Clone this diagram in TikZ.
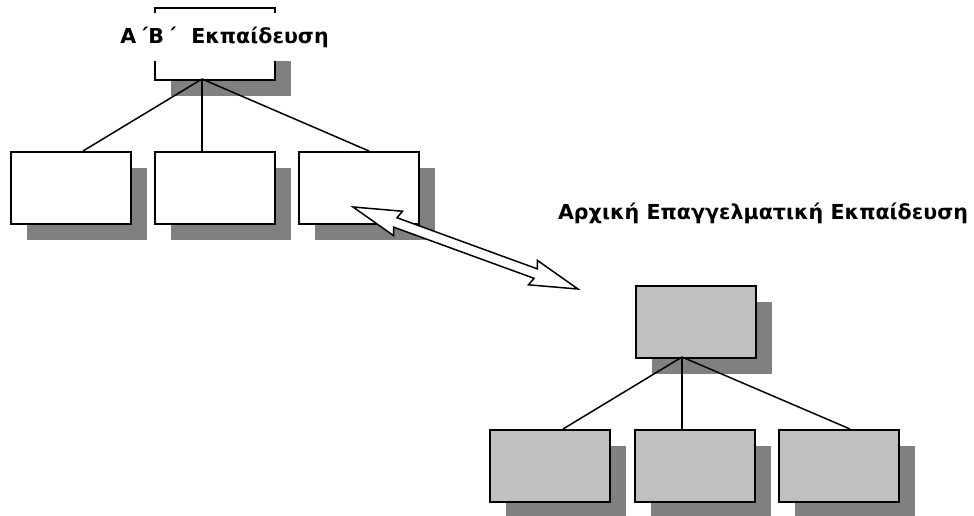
\documentclass[tikz,border=0pt]{standalone}
\usepackage{fontspec}
\setmainfont{DejaVu Sans}
\usetikzlibrary{calc}
\definecolor{shadowgray}{RGB}{128,128,128}
\definecolor{boxgray}{RGB}{192,192,192}
\begin{document}
\begin{tikzpicture}[x=1pt,y=-1pt,
  orgbox/.style={draw=black,line width=2pt,minimum width=120pt,minimum height=72pt,inner sep=0pt,anchor=north west},
  wbox/.style={orgbox,fill=white},
  gbox/.style={orgbox,fill=boxgray},
  shadowbox/.style={fill=shadowgray,draw=none,minimum width=120pt,minimum height=72pt,inner sep=0pt,anchor=north west},
  link/.style={draw=black,line width=1.5pt},
  title/.style={font=\bfseries\fontsize{20.6}{24}\selectfont,inner sep=0pt}]
\useasboundingbox (0,0) rectangle (974,515);
\begin{scope}
\clip (0,0) rectangle (974,515);
% shadows
\foreach \x/\y in {171/24, 27/168, 171/168, 315/168, 652/302, 506/446, 651/446, 795/446}
  \node[shadowbox] at (\x,\y) {};
\end{scope}
% left group
\node[wbox] (t) at (154,7) {};
\node[wbox] (l1) at (10,151) {};
\node[wbox] (l2) at (154,151) {};
\node[wbox] (l3) at (298,151) {};
\coordinate (tj) at (202,79);
\draw[link] (tj) -- (l1.north west -| 83,0);
\draw[link] (tj) -- (l2.north west -| 202,0);
\draw[link] (tj) -- (l3.north west -| 369,0);
\node[title,fill=white,minimum height=48pt,inner xsep=4pt] (tl) at (224.5,37)
  {\raisebox{-4pt}{Α\hspace{3pt}΄Β\hspace{3pt}΄\hspace{8pt} Εκπαίδευση}};
% right group
\node[gbox] (r) at (635,285) {};
\node[gbox] (r1) at (489,429) {};
\node[gbox] (r2) at (634,429) {};
\node[gbox] (r3) at (778,429) {};
\coordinate (rj) at (682,357);
\draw[link] (rj) -- (r1.north west -| 563,0);
\draw[link] (rj) -- (r2.north west -| 682,0);
\draw[link] (rj) -- (r3.north west -| 850,0);
\node[title] (tr) at (763,213) {Αρχική Επαγγελματική Εκπαίδευση};
% double arrow between the groups
\coordinate (a1) at (353,207);
\coordinate (a2) at (579,290);
\begin{scope}[shift={(a1)},rotate=-20.03]
\draw[fill=white,line width=1.5pt,line join=miter]
  (0,0) -- (48,13) -- (45,5) -- (194.5,5) -- (191.5,13) -- (239.5,0)
  -- (191.5,-13) -- (194.5,-5) -- (45,-5) -- (48,-13) -- cycle;
\end{scope}
\end{tikzpicture}
\end{document}
